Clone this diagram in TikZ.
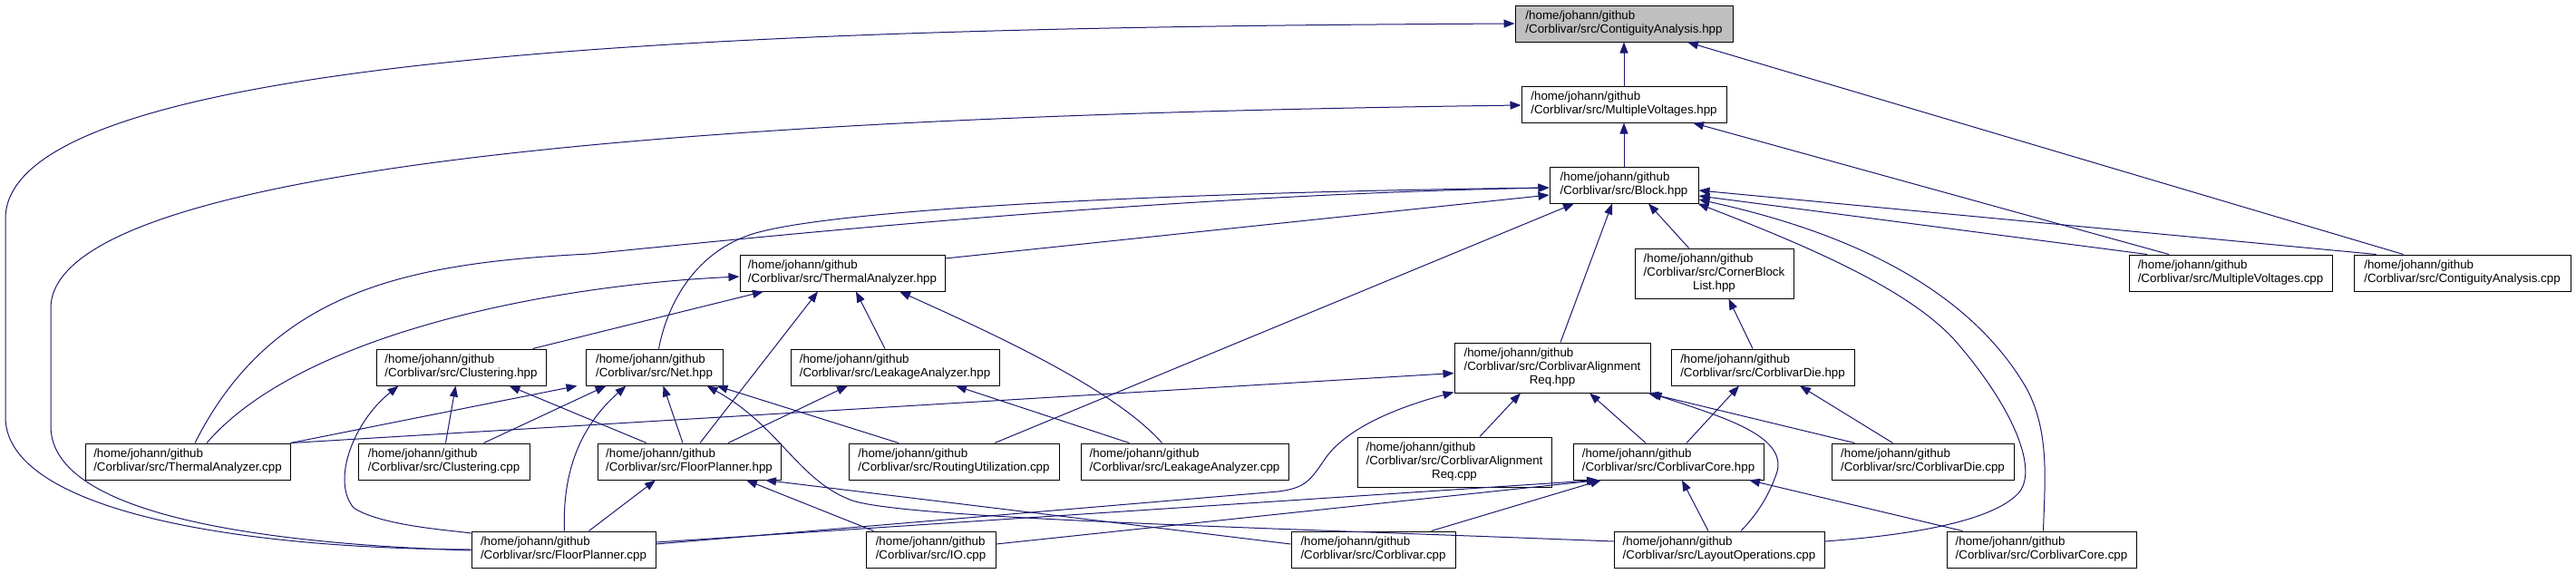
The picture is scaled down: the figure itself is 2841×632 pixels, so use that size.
\documentclass[tikz,border=0pt]{standalone}
\usepackage{fontspec}
\setmainfont{Liberation Sans}
\usetikzlibrary{arrows.meta}
\definecolor{edgecol}{HTML}{191970}
\definecolor{graycol}{HTML}{BFBFBF}
\newcommand{\nodefont}{\fontsize{13.33}{15}\selectfont}
\newcommand{\twoline}[1]{\begin{tabular}{@{}l@{}}/home/johann/github\\/Corblivar/src/#1\end{tabular}}
\newcommand{\threeline}[2]{\begin{tabular}{@{}l@{}}/home/johann/github\\/Corblivar/src/#1\\\multicolumn{1}{@{}c@{}}{#2}\end{tabular}}
\tikzset{
  nd/.style={draw=black, line width=1pt, fill=white, inner sep=0pt, minimum height=40pt, font=\nodefont},
  ed/.style={draw=edgecol, line width=1pt, arrows={Triangle[length=12pt,width=9pt]-}}
}
\begin{document}
\begin{tikzpicture}[x=1pt,y=-1pt]
\useasboundingbox (0,0) rectangle (2841,632);
\fill[white] (0,0) rectangle (2841,632);
% nodes
\node[nd,fill=graycol,minimum width=240pt] (CAh) at (1791,26) {\twoline{ContiguityAnalysis.hpp}};
\node[nd,minimum width=226pt] (MVh) at (1791,115) {\twoline{MultipleVoltages.hpp}};
\node[nd,minimum width=164pt] (Bh) at (1791,204) {\twoline{Block.hpp}};
\node[nd,minimum width=226pt] (TAh) at (929,301) {\twoline{ThermalAnalyzer.hpp}};
\node[nd,minimum width=175pt,minimum height=55pt] (CBL) at (1890.5,301.5) {\threeline{CornerBlock}{List.hpp}};
\node[nd,minimum width=224pt] (MVc) at (2460,301) {\twoline{MultipleVoltages.cpp}};
\node[nd,minimum width=239pt] (CAc) at (2715.5,301) {\twoline{ContiguityAnalysis.cpp}};
\node[nd,minimum width=187pt] (Clh) at (508.5,405) {\twoline{Clustering.hpp}};
\node[nd,minimum width=151pt] (Neth) at (721.5,405) {\twoline{Net.hpp}};
\node[nd,minimum width=230pt] (LAh) at (987,405) {\twoline{LeakageAnalyzer.hpp}};
\node[nd,minimum width=216pt,minimum height=55pt] (CARh) at (1712,405.5) {\threeline{CorblivarAlignment}{Req.hpp}};
\node[nd,minimum width=202pt] (CDh) at (1944,405) {\twoline{CorblivarDie.hpp}};
\node[nd,minimum width=226pt] (TAc) at (207,509) {\twoline{ThermalAnalyzer.cpp}};
\node[nd,minimum width=189pt] (Clc) at (489.5,509) {\twoline{Clustering.cpp}};
\node[nd,minimum width=202pt] (FPh) at (760,509) {\twoline{FloorPlanner.hpp}};
\node[nd,minimum width=232pt] (RUc) at (1052,509) {\twoline{RoutingUtilization.cpp}};
\node[nd,minimum width=229pt] (LAc) at (1306.5,509) {\twoline{LeakageAnalyzer.cpp}};
\node[nd,minimum width=214pt,minimum height=55pt] (CARc) at (1604,509.5) {\threeline{CorblivarAlignment}{Req.cpp}};
\node[nd,minimum width=210pt] (CCh) at (1840,509) {\twoline{CorblivarCore.hpp}};
\node[nd,minimum width=201pt] (CDc) at (2120.5,509) {\twoline{CorblivarDie.cpp}};
\node[nd,minimum width=203pt] (FPc) at (621.5,606) {\twoline{FloorPlanner.cpp}};
\node[nd,minimum width=143pt] (IOc) at (1026.5,606) {\twoline{IO.cpp}};
\node[nd,minimum width=181pt] (Cc) at (1514.5,606) {\twoline{Corblivar.cpp}};
\node[nd,minimum width=232pt] (LOc) at (1896,606) {\twoline{LayoutOperations.cpp}};
\node[nd,minimum width=209pt] (CCc) at (2251.5,606) {\twoline{CorblivarCore.cpp}};
% edges into ContiguityAnalysis.hpp
\draw[ed] (CAh.south) -- (MVh.north);
\draw[ed] ([xshift=70pt]CAh.south) -- ([xshift=-65pt]CAc.north);
\draw[ed] (CAh.west) .. controls (900,30) and (10,50) .. (6,240) -- (6,460) .. controls (6,560) and (250,605) .. (FPc.west);
% into MultipleVoltages.hpp
\draw[ed] (MVh.south) -- (Bh.north);
\draw[ed] ([xshift=76pt]MVh.south) -- ([xshift=-68pt]MVc.north);
\draw[ed] ([yshift=-1pt]MVh.west) .. controls (1000,125) and (56,160) .. (56,340) -- (56,470) .. controls (56,570) and (300,600) .. ([yshift=-1pt]FPc.west);
% into Block.hpp
\draw[ed] ([yshift=-3pt]Bh.west) .. controls (1300,215) and (900,255) .. (650,280) .. controls (450,290) and (300,320) .. ([xshift=8pt]TAc.north);
\draw[ed] ([yshift=-3pt]Bh.west) .. controls (1300,212) and (920,230) .. (830,258) .. controls (770,277) and (737,330) .. ([xshift=5pt]Neth.north);
\draw[ed] ([yshift=-11pt]Bh.west) -- ([yshift=16pt]TAh.east);
\draw[ed] ([xshift=-55pt]Bh.south) -- ([xshift=45pt]RUc.north);
\draw[ed] ([xshift=-13pt]Bh.south) -- ([xshift=9pt]CARh.north);
\draw[ed] ([xshift=27pt]Bh.south) -- ([xshift=-28pt]CBL.north);
\draw[ed] ([xshift=-1pt]Bh.south east) .. controls (1990,270) and (2110,320) .. (2160,380) .. controls (2220,450) and (2250,520) .. (2225,545) .. controls (2190,580) and (2080,592) .. ([yshift=9pt]LOc.east);
\draw[ed] ([yshift=-16pt]Bh.east) .. controls (2080,265) and (2180,340) .. (2230,420) .. controls (2262,470) and (2255,530) .. ([xshift=2pt]CCc.north);
\draw[ed] ([yshift=-12pt]Bh.east) -- ([xshift=-92pt]MVc.north);
\draw[ed] ([yshift=-6pt]Bh.east) -- ([xshift=-95pt]CAc.north);
% into ThermalAnalyzer.hpp
\draw[ed] ([yshift=-4pt]TAh.west) .. controls (600,315) and (330,370) .. ([xshift=21pt]TAc.north);
\draw[ed] ([xshift=-87pt]TAh.south) -- ([xshift=79pt]Clh.north);
\draw[ed] ([xshift=-27pt]TAh.south) -- ([xshift=12pt]FPh.north);
\draw[ed] ([xshift=15pt]TAh.south) -- ([xshift=-11pt]LAh.north);
\draw[ed] ([xshift=63pt]TAh.south) .. controls (1100,370) and (1230,430) .. ([xshift=-25pt]LAc.north);
% into Clustering.hpp
\draw[ed] ([xshift=-69pt]Clh.south) .. controls (390,465) and (365,530) .. (390,560) .. controls (420,580) and (500,585) .. ([yshift=18pt]FPc.west);
\draw[ed] ([xshift=-6pt]Clh.south) -- ([xshift=2pt]Clc.north);
\draw[ed] ([xshift=53pt]Clh.south) -- ([xshift=-47pt]FPh.north);
% into Net.hpp
\draw[ed] ([xshift=-85pt]Neth.south) -- (TAc.north east);
\draw[ed] ([xshift=-53pt]Neth.south) -- ([xshift=44pt]Clc.north);
\draw[ed] ([xshift=-31pt]Neth.south) .. controls (640,470) and (620,520) .. ([xshift=1pt]FPc.north);
\draw[ed] ([xshift=10pt]Neth.south) -- ([xshift=-7pt]FPh.north);
\draw[ed] ([xshift=69pt]Neth.south) -- ([xshift=-61pt]RUc.north);
\draw[ed] ([xshift=58pt]Neth.south) .. controls (860,470) and (880,530) .. (940,552) .. controls (1000,572) and (1400,582) .. ([yshift=9pt]LOc.west);
% into LeakageAnalyzer.hpp
\draw[ed] ([xshift=-52pt]LAh.south) -- ([xshift=43pt]FPh.north);
\draw[ed] ([xshift=67pt]LAh.south) -- ([xshift=-61pt]LAc.north);
% into FloorPlanner.hpp
\draw[ed] ([xshift=-37pt]FPh.south) -- ([xshift=28pt]FPc.north);
\draw[ed] ([xshift=63pt]FPh.south) -- ([xshift=-63pt]IOc.north);
\draw[ed] ([xshift=84pt]FPh.south) -- ([yshift=6pt]Cc.west);
% into CorblivarAlignmentReq.hpp
\draw[ed] ([yshift=-6pt]CARh.west) -- (TAc.north east);
\draw[ed] ([yshift=-27pt]CARh.west) .. controls (1520,455) and (1480,480) .. (1462,505) .. controls (1445,530) and (1440,538) .. (1410,542) -- ([yshift=6pt]FPc.east);
\draw[ed] ([xshift=-35pt]CARh.south) -- ([xshift=28pt]CARc.north);
\draw[ed] ([xshift=41pt]CARh.south) -- ([xshift=-25pt]CCh.north);
\draw[ed] ([xshift=-3pt]CARh.south east) -- ([xshift=-75pt]CDc.north);
\draw[ed] (CARh.south east) .. controls (1900,460) and (1970,480) .. (1960,520) .. controls (1950,550) and (1935,570) .. ([xshift=24pt]LOc.north);
% into CornerBlockList.hpp
\draw[ed] ([xshift=16pt]CBL.south) -- ([xshift=-11pt]CDh.north);
% into CorblivarDie.hpp
\draw[ed] ([xshift=-26pt]CDh.south) -- ([xshift=20pt]CCh.north);
\draw[ed] ([xshift=41pt]CDh.south) -- ([xshift=-33pt]CDc.north);
% into CorblivarCore.hpp
\draw[ed] ([xshift=-78pt]CCh.south) -- ([yshift=8pt]FPc.east);
\draw[ed] ([xshift=-76pt]CCh.south) -- ([yshift=6pt]IOc.east);
\draw[ed] ([xshift=-74pt]CCh.south) -- ([xshift=64pt]Cc.north);
\draw[ed] ([xshift=15pt]CCh.south) -- ([xshift=-12pt]LOc.north);
\draw[ed] ([xshift=89pt]CCh.south) -- ([xshift=-87pt]CCc.north);
\end{tikzpicture}
\end{document}
